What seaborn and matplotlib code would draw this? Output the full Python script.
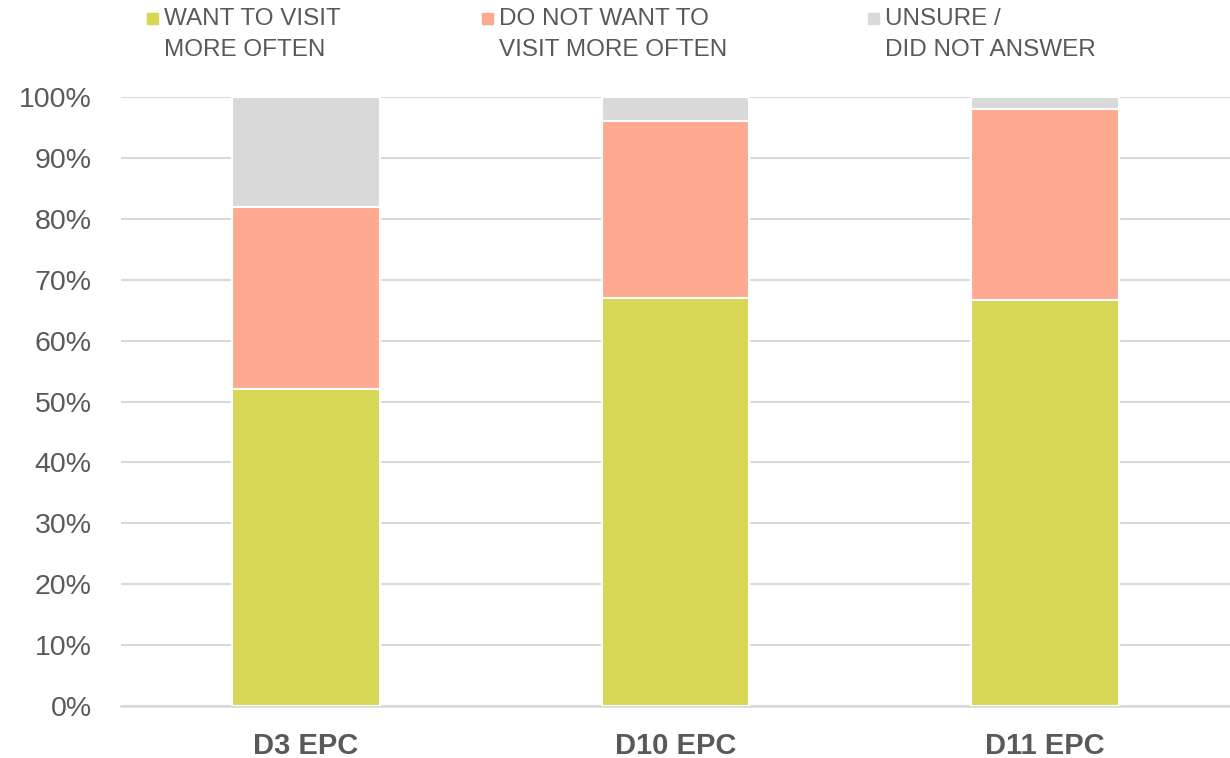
import matplotlib
matplotlib.use("Agg")
import matplotlib.pyplot as plt
from matplotlib.patches import Rectangle
from matplotlib.font_manager import fontManager
import seaborn as sns
import pandas as pd
import numpy as np

categories = ["D3 EPC", "D10 EPC", "D11 EPC"]
want = [52, 67, 66.7]
dont = [30, 29, 31.3]
unsure = [18, 4, 2]
series_labels = ["WANT TO VISIT\nMORE OFTEN", "DO NOT WANT TO\nVISIT MORE OFTEN", "UNSURE /\nDID NOT ANSWER"]
colors = ["#D7D755", "#FFAA90", "#D9D9D9"]
yticks = [0, 10, 20, 30, 40, 50, 60, 70, 80, 90, 100]

sns.set_theme(style="white")
plt.rcParams['font.family'] = ['Liberation Sans', 'DejaVu Sans']
text_color = "#595959"

fig = plt.figure(figsize=(12.3, 7.58), dpi=100)
ax = fig.add_axes([121/1230, 52/758, 1 - 121/1230, (706-97)/758])

df = pd.DataFrame({"cat": categories, "want": want, "dont": dont, "unsure": unsure})
df["c1"] = df["want"]
df["c2"] = df["want"] + df["dont"]
df["c3"] = df["c2"] + df["unsure"]

for col, color in [("c3", colors[2]), ("c2", colors[1]), ("c1", colors[0])]:
    sns.barplot(data=df, x="cat", y=col, color=color, width=0.4, ax=ax,
                edgecolor="white", linewidth=1.5, saturation=1, zorder=3)

ax.set_ylim(0, 100)
ax.set_xlim(-0.5, 2.5)
ax.set_yticks(yticks)
ax.set_yticklabels([f"{t}%" for t in yticks], fontsize=20.5, color=text_color)
ax.set_xlabel("")
ax.set_ylabel("")
ax.set_xticks(range(len(categories)))
ax.set_xticklabels(categories, fontsize=21, fontweight="bold", color=text_color)
ax.tick_params(axis="both", length=0)
ax.tick_params(axis="y", pad=21)
ax.tick_params(axis="x", pad=19)
ax.grid(axis="y", color="#D9D9D9", linewidth=1.5, zorder=0)
ax.set_axisbelow(True)
for s in ["top", "right", "left"]:
    ax.spines[s].set_visible(False)
ax.spines["bottom"].set_color("#D9D9D9")
ax.spines["bottom"].set_linewidth(1.8)

# legend
leg_x = [147, 482, 868]
for x, lab, c in zip(leg_x, series_labels, colors):
    fig.add_artist(Rectangle((x/1230, 1 - 24/758), 11/1230, 11/758,
                             transform=fig.transFigure, color=c))
    fig.text((x + 17)/1230, 1 - 8/758, lab, ha="left", va="top",
             fontsize=17.5, color=text_color, linespacing=1.5)

fig.savefig("out.png", dpi=100)
